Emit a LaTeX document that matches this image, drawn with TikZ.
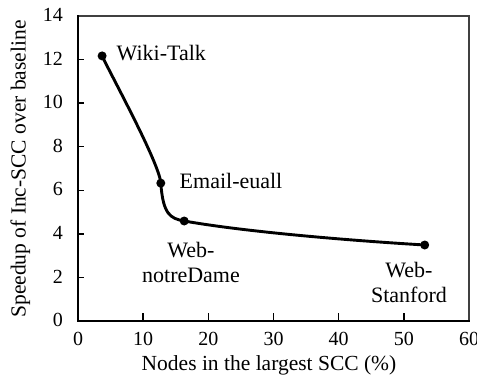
\documentclass[tikz,border=0pt]{standalone}
\usepackage{fontspec}
\setmainfont{Liberation Serif}
\begin{document}
\begin{tikzpicture}[x=1pt,y=-1pt,
  every node/.style={inner sep=0pt},
  ticklabel/.style={font=\fontsize{20}{24}\selectfont},
  axistitle/.style={font=\fontsize{21.5}{26}\selectfont},
  pointlabel/.style={font=\fontsize{22}{25.5}\selectfont},
  frameline/.style={line width=1.1pt,draw=black!75},
  axisline/.style={line width=2.7pt,line cap=rect},
  tickmark/.style={line width=1.4pt},
  series/.style={line width=2.9pt,line join=round},
  marker/.style={fill=black}]
\useasboundingbox (0,0) rectangle (477,378);

% plot frame and axes
\draw[frameline] (78,16) -- (469,16) -- (469,321);
\draw[axisline] (78,16) -- (78,321) -- (469,321);

% x ticks and labels (0..60 %)
\foreach \v [evaluate=\v as \px using 78+6.517*\v] in {10,20,30,40,50}
  \draw[tickmark] (\px,321) -- (\px,313);
\foreach \v [evaluate=\v as \px using 78+6.517*\v] in {0,10,20,30,40,50,60}
  \node[ticklabel,anchor=base] (xl\v) at (\px,345) {\v};

% y ticks and labels (0..14)
\foreach \v [evaluate=\v as \py using 321-21.786*\v] in {2,4,...,12}
  \draw[tickmark] (78,\py) -- (84,\py);
\foreach \v [evaluate=\v as \py using 326.7-21.786*\v] in {0,2,...,14}
  \node[ticklabel,anchor=base east] (yl\v) at (63,\py) {\v};

% axis titles
\node[axistitle,anchor=base] (xtitle) at (269,370.7) {Nodes in the largest SCC (\%)};
\node[axistitle,rotate=90,anchor=base] (ytitle) at (25.5,169) {Speedup of Inc-SCC over baseline};

% data points
\coordinate (wt) at (102.1,55.9);
\coordinate (ee) at (160.8,183.1);
\coordinate (nd) at (184.2,221.0);
\coordinate (ws) at (424.7,245.0);

% smoothed series
\coordinate (c1a) at (110.5,74.1);
\coordinate (c1b) at (159.4,163.1);
\coordinate (c2a) at (163.0,214.0);
\coordinate (c2b) at (170.0,218.5);
\coordinate (c3a) at (244.2,231.6);
\coordinate (c3b) at (345.0,240.2);
\draw[series] (wt) .. controls (c1a) and (c1b) .. (ee)
                   .. controls (c2a) and (c2b) .. (nd)
                   .. controls (c3a) and (c3b) .. (ws);
\foreach \p in {wt,ee,nd,ws}
  \fill[marker] (\p) circle[radius=4.5];

% point labels
\node[pointlabel,anchor=base west] (lwt) at (116.5,60.7) {Wiki-Talk};
\node[pointlabel,anchor=base west] (lee) at (179.5,188) {Email-euall};
\node[pointlabel,align=center,anchor=north] (lnd) at (191,242) {Web-\\notreDame};
\node[pointlabel,align=center,anchor=north] (lws) at (409,262) {Web-\\Stanford};
\end{tikzpicture}
\end{document}
